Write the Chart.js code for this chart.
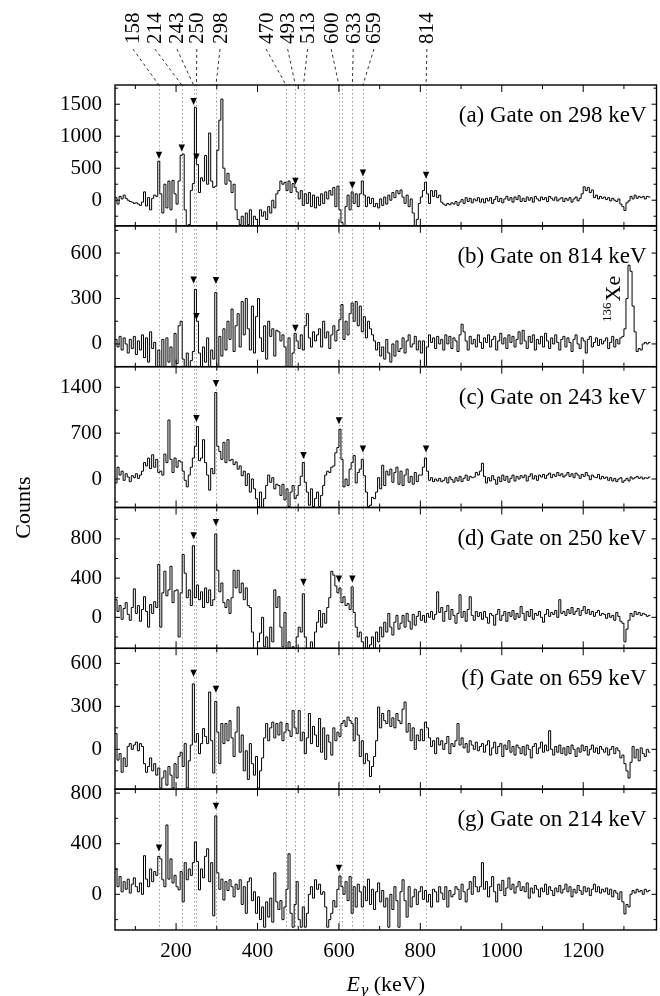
<!DOCTYPE html>
<html>
<head>
<meta charset="utf-8">
<title>Gated gamma spectra</title>
<script src="https://cdn.jsdelivr.net/npm/chart.js@4.4.1/dist/chart.umd.min.js"></script>
<style>
  html, body { margin: 0; padding: 0; background: #fff; }
  #wrap { position: relative; width: 660px; height: 996px; }
</style>
</head>
<body>
<div id="wrap"><canvas id="spectra"></canvas></div>
<script>
// binning of the gated spectra (keV)
var E_START = 50;
var BIN = 5;
var X_MIN = 50;
var X_MAX = 1380;
var xTicks = [200, 400, 600, 800, 1000, 1200];

// transitions marked by dotted lines / labelled on top
var lineEnergies = [158, 214, 243, 250, 298, 470, 493, 513, 600, 607, 633, 659, 814];
var labelEnergies = [158, 214, 243, 250, 298, 470, 493, 513, 600, 633, 659, 814];

var gateNames = ['(a) Gate on 298 keV', '(b) Gate on 814 keV', '(c) Gate on 243 keV',
                 '(d) Gate on 250 keV', '(f) Gate on 659 keV', '(g) Gate on 214 keV'];

// counts per 5 keV bin, starting at 50 keV, one row = 100 keV
var countsA = [
  40, -60, 60, 20, 80, 30, 0, -20, -30, -50, -40, -60, -80, -30, 130, -90, 40, -150, 30, 80,
  60, 610, 100, -200, 250, -120, 300, -150, 310, 100, -60, 300, 700, 720, -150, -450, -380, 150, 260, 1450,
  560, 120, 350, 300, 700, 250, 1050, 300, 200, 220, 780, 1250, 1580, 500, 250, 420, 300, 120, 250, -150,
  -300, -380, -250, -420, -200, -380, -150, -450, -250, -300, -450, -150, -250, -180, -300, -100, -200, 0, -120, 100,
  150, 300, 250, 280, 150, 300, 120, 260, 200, 130, 20, 150, -80, 100, -50, 120, -100, 80, -120, 50,
  -80, 100, -50, 130, 20, 150, 80, 200, -100, 220, -150, -350, -450, -100, 80, -150, 130, -50, 100, -100,
  100, 300, 80, -100, 50, -50, 30, -100, -50, -120, 20, -80, 50, -60, 80, 0, 120, 40, 150, 100,
  160, 50, -50, 80, -100, 20, -200, -450, -300, -50, 50, 150, 280, 100, -50, 150, 60, 150, 40, 80,
  -30, -60, -80, -50, -70, -40, -60, -20, -80, -30, 10, -50, 40, -20, 30, -40, 20, -10, 40, -30,
  20, -40, 30, -10, 40, -50, 10, 60, -20, 30, -40, 20, 60, 0, 40, -30, 50, 10, 70, -20,
  30, -20, 50, 0, 40, -30, 60, 20, -10, 50, 10, 40, -20, 60, 30, 0, 50, -10, 20, 40,
  -20, 30, 0, 40, -30, 20, 50, -10, 30, 100, 210, 150, 200, 120, 160, 40, 80, 20, 60, 30,
  50, 10, 40, -10, 30, 0, -20, 20, -60, -100, -160, -40, -10, 60, 20, 80, 30, 60, 40, 60,
  20, 60, 50
];
var countsB = [
  30, -20, 50, -40, 40, 0, -60, 30, -30, 50, -70, 20, -40, 60, -90, 40, -120, 80, -30, 10,
  -150, -40, -150, 30, -160, 40, -120, -20, -150, 70, -130, 120, 150, -100, -160, -60, -150, -110, -50, 360,
  150, -60, -150, -20, -120, 40, -150, -40, -100, 340, -150, 50, -80, 100, -40, 150, 30, 230, -50, 120,
  200, -20, 280, 60, 300, 100, -40, 250, -60, 180, 300, 40, -50, 120, -100, 150, 50, 100, -80, 90,
  80, 20, 60, -20, -150, 40, -150, -60, 70, 20, -30, 60, -40, 120, 200, 40, -20, 80, 20, 60,
  100, -20, 150, 40, 80, -30, 60, 120, 20, 90, 160, 260, 30, 150, 60, 200, 270, 150, 280, 120,
  250, 80, 180, 40, 150, 100, 60, 20, -40, 10, -80, -20, -100, 30, -60, -120, 0, -80, 20, -50,
  -30, 40, -60, 20, 60, -20, 0, 50, -40, 20, -60, 20, -150, -20, 60, 10, 40, -30, 50, 0,
  30, -40, 60, 0, 50, -30, 40, 20, -50, 60, 130, 80, 20, -40, 50, 0, 30, -20, 60, 10,
  -30, 40, 10, 60, -20, 30, 50, -40, 20, 70, 0, 40, -30, 60, 10, 50, -20, 30, 80, 0,
  90, 20, -30, 50, 10, 60, -40, 30, 0, 50, -20, 70, 20, -30, 40, 0, 60, 10, -40, 30,
  50, -20, 40, 10, -50, 30, 60, 0, -30, 40, 20, -60, 30, 50, -20, 10, 40, -10, 30, 0,
  20, 40, -30, 10, 50, -20, 30, 0, 40, 50, 100, 300, 520, 480, 250, 80, -50, -30, -40, 0,
  10, 0, 10
];
var countsC = [
  -60, 180, 60, 120, -20, 80, 30, -40, 50, 20, 80, 10, 60, 120, 250, 200, 320, 160, 370, 180,
  300, 100, 120, 60, 380, 250, 900, 300, 100, 320, 180, 280, 260, 120, -20, -120, 60, 180, 320, 500,
  800, 280, 320, 600, 250, 60, -170, 160, 80, 1320, 500, 420, 300, 560, 250, 600, 280, 300, 220, 260,
  150, 200, 50, 120, -100, 80, -200, 0, -150, -300, -420, -200, -450, -300, -100, 60, -50, 20, -150, -80,
  -100, -250, -80, -320, -150, -420, -200, -100, -300, -250, -100, 40, 250, -50, -200, -400, -150, -420, -300, -200,
  -420, -250, -100, 60, 120, 100, 180, 200, 400, 480, 760, 300, -120, 0, -100, 150, 250, 360, -60, 100,
  150, 300, 50, -200, -420, -400, -280, -300, -200, 20, -150, 210, -100, 120, 60, 150, -50, 100, 180, -80,
  120, -100, 60, 150, -50, 40, -80, 100, -40, 60, 60, 180, 320, 120, -20, 20, -40, 0, -30, 10,
  -40, -20, 20, -60, 30, -10, -50, 20, -30, 40, -40, 10, 60, -20, 40, 20, 30, 100, 60, 120,
  240, 40, -60, 20, -30, 50, -10, -80, 30, -40, 60, -20, 40, -50, 10, 60, -30, 40, 0, 50,
  20, 60, -30, 40, 80, 0, 50, -20, 60, 30, 70, 10, 60, 90, 20, 70, 40, 100, 50, 80,
  30, 60, 100, 40, 80, 20, 90, 60, 10, 70, 40, 100, 50, -10, 60, 30, 20, 70, 0, 40,
  10, 30, -20, 20, -30, 10, -40, 0, 20, -50, -20, 10, -30, 30, 0, 20, 40, 10, 30, 0,
  20, 10, 30
];
var countsD = [
  180, 60, 120, -20, 90, 150, 30, -30, 100, 290, 40, 120, -40, 80, 210, 60, -100, 130, 40, 160,
  100, 540, -100, 250, 470, 220, 280, 520, 150, 270, 280, -200, 250, 640, 450, 200, 280, 120, 730, 200,
  330, 180, 260, 100, 300, 150, 280, 120, 180, 850, 480, 260, 350, 150, 100, 180, 40, 200, 480, 300,
  480, 250, 350, 180, 300, 120, 100, -150, -320, -340, -250, -160, 0, -300, -200, -330, -100, -250, 280, 100,
  210, -100, -300, 50, -330, -250, -340, -300, -330, -200, -100, -150, 240, -200, -330, -400, -250, -330, -150, -50,
  70, -100, 40, -60, 100, 200, 470, 430, 320, 250, 300, 150, 210, 120, 140, 80, 310, 50, -100, -200,
  -150, -250, -320, -200, -330, -280, -200, -320, -150, -250, -100, -200, -50, -150, 40, -100, -180, -50, 20, -120,
  -60, 20, -100, 40, -40, -120, 30, -80, 10, 60, -30, 20, -50, 40, 0, 60, -20, 30, 260, 50,
  100, -40, 60, 120, -20, 80, 20, -60, 40, 230, 0, 60, -40, 80, 210, 20, -30, 60, 10, 50,
  -20, 60, 0, -60, 40, 20, -80, 30, 80, -30, 20, 60, -40, 50, 10, 70, -20, 40, 0, 110,
  40, -30, 60, 10, 80, -20, 40, 20, 60, 0, -50, 30, 80, 10, 50, 30, 70, 0, 180, 40,
  60, 20, 80, 40, 100, 30, 60, 90, 20, 70, 110, 40, 80, 30, 60, 10, 50, 70, 20, 40,
  30, -10, 40, 0, 20, -30, 50, 10, -40, -60, -250, -120, -30, 40, 10, 60, 30, 50, 20, 40,
  30, 10, 20
];
var countsF = [
  110, -75, -30, -160, -60, -120, 20, 40, 0, 30, 50, -10, 40, 20, -100, -160, -120, -60, -150, -100,
  -180, -130, -270, -200, -150, -250, -120, -180, -270, -100, -200, -50, -20, -120, 40, -270, -80, 30, 457, 50,
  110, -30, 40, 145, 90, 40, 400, 60, -165, 335, 120, -100, 180, 40, 180, 60, 200, 80, -50, 120,
  295, -20, 100, -150, -10, -210, 40, -100, -180, -50, -270, -150, -60, 80, 180, 60, 150, 190, 80, 180,
  100, 190, 60, 120, 180, 130, 90, 270, 150, 110, 270, 60, 120, -30, 80, 250, 40, 160, 100, 20,
  215, -20, 150, -70, 100, 50, -40, 150, 60, 120, 90, 180, 200, 160, 225, 200, 180, 60, 220, 100,
  -50, 60, -100, -30, -80, -190, -120, -50, 60, 295, 150, 250, 200, 180, 270, 160, 220, 150, 250, 200,
  180, 280, 330, 120, 180, 60, 150, 0, 100, 60, 140, 60, 190, 150, 80, 20, 60, -30, 80, 30,
  60, 0, 40, 90, -30, 40, 20, 60, 180, 30, 80, 10, 40, -20, 60, 30, 0, 50, -10, 20,
  40, -20, 30, 60, -40, 10, 50, -30, 20, 40, -50, 30, 0, 60, -20, 20, -40, 30, 10, -30,
  20, -40, 30, 0, -60, 20, 40, -30, 10, 50, -20, 30, -10, 130, 0, -40, 20, -20, 30, -30,
  10, -40, 20, -30, 30, 0, -50, 10, -20, 30, -10, 20, -40, 0, 30, -20, 10, -30, 20, 0,
  -20, 10, -40, 0, 20, -30, 10, -10, -60, -40, -100, -150, -200, -90, 20, -60, 0, -80, 10, -30,
  -50, 0, -20
];
var countsG = [
  200, 60, 140, 20, 100, 40, 120, 10, 80, 130, 60, 20, 90, 0, 305, 120, 60, 200, 100, 180,
  150, 300, 280, 115, 60, 548, 120, 280, 90, 150, 60, 35, 180, -60, 250, 115, 200, 150, 250, 413,
  260, 35, 200, 130, 300, 360, 100, 250, -170, 620, 170, 40, 120, -45, 100, 30, 115, 60, -20, 80,
  40, 115, -80, 60, -150, 100, 130, -50, 20, -150, -20, -200, -100, -260, -60, -180, -30, -220, 170, -60,
  -120, -50, -200, -100, 40, 320, -150, -260, -80, 100, -200, -260, -100, -260, -150, 0, 60, -30, 115, 40,
  80, 0, 20, -100, -260, -200, -150, -50, -100, 40, 145, 60, 0, 100, -50, 140, -150, 60, -100, 80,
  20, -100, 60, -50, 120, -80, 40, -120, 20, 90, -60, 30, -100, -30, -260, 0, -120, 60, -50, -260,
  20, 115, -50, -180, 60, -100, -20, 40, -80, 20, 60, -40, 30, -60, 0, -100, 40, 20, -60, 60,
  10, -40, 60, -100, 30, -20, 0, 60, 40, -40, 80, 20, -60, 40, 100, 0, 140, 60, 20, 60,
  250, 40, 100, -20, 60, 140, 20, -60, 80, 30, 110, -10, 50, 130, 40, 80, 10, 60, 100, 30,
  60, 20, 90, -30, 50, 10, 70, 40, -20, 50, 20, 80, 0, 60, 30, -10, 50, 20, 70, 10,
  40, 80, 20, 60, -20, 40, 10, 70, 30, 0, 60, 20, 50, -10, 40, 80, 20, 60, 10, 40,
  20, 50, 0, 40, -20, 30, 10, -40, 20, -60, -155, -80, -100, 0, 30, 10, 40, 20, 30, 0,
  40, 20, 30
];

// y ranges and labelled ticks of each panel
var rangeA = [-400, 1800], yTicksA = [0, 500, 1000, 1500];
var rangeB = [-150, 780],  yTicksB = [0, 300, 600];
var rangeC = [-435, 1715], yTicksC = [0, 700, 1400];
var rangeD = [-316, 1120], yTicksD = [0, 400, 800];
var rangeF = [-278, 705],  yTicksF = [0, 300, 600];
var rangeG = [-282, 831],  yTicksG = [0, 400, 800];

// marked peaks: [energy, counts at triangle tip]
var peaksA = [[158, 646], [214, 760], [243, 1488], [250, 620], [493, 240], [633, 178], [659, 370], [814, 334]];
var peaksB = [[243, 400], [250, 158], [298, 396], [493, 81]];
var peaksC = [[250, 872], [298, 1405], [513, 304], [600, 837], [659, 406], [814, 406]];
var peaksD = [[243, 797], [298, 932], [513, 322], [600, 356], [633, 356]];
var peaksF = [[243, 507], [298, 395]];
var peaksG = [[158, 338], [298, 669], [600, 179]];

var panels = [
  { id: 'ya', name: gateNames[0], counts: countsA, range: rangeA, ticks: yTicksA, peaks: peaksA },
  { id: 'yb', name: gateNames[1], counts: countsB, range: rangeB, ticks: yTicksB, peaks: peaksB },
  { id: 'yc', name: gateNames[2], counts: countsC, range: rangeC, ticks: yTicksC, peaks: peaksC },
  { id: 'yd', name: gateNames[3], counts: countsD, range: rangeD, ticks: yTicksD, peaks: peaksD },
  { id: 'yf', name: gateNames[4], counts: countsF, range: rangeF, ticks: yTicksF, peaks: peaksF },
  { id: 'yg', name: gateNames[5], counts: countsG, range: rangeG, ticks: yTicksG, peaks: peaksG }
];

var SERIF = '"Liberation Serif", "Times New Roman", serif';
Chart.defaults.font.family = SERIF;
Chart.defaults.color = '#000';

var toPoints = function (counts) {
  var pts = [];
  for (var i = 0; i < counts.length; i++) {
    pts.push({ x: E_START + i * BIN, y: counts[i] });
  }
  // close the last bin
  pts.push({ x: E_START + counts.length * BIN, y: counts[counts.length - 1] });
  return pts;
};

var tickSetter = function (values) {
  return function (scale) {
    scale.ticks = values.map(function (v) { return { value: v }; });
  };
};

var scales = {
  x: {
    type: 'linear',
    position: 'bottom',
    min: X_MIN,
    max: X_MAX,
    grid: { display: false, drawTicks: false },
    border: { display: false },
    ticks: { font: { size: 21 }, color: '#000', padding: 9, maxRotation: 0, autoSkip: false,
             callback: function (v) { return String(v); } },
    afterBuildTicks: tickSetter(xTicks),
    afterFit: function (scale) { scale.height = 66; }
  }
};
// stacked left axes are laid out last-defined-first, so add them bottom-up
panels.slice().reverse().forEach(function (p) {
  scales[p.id] = {
    type: 'linear',
    position: 'left',
    stack: 'gates',
    stackWeight: 1,
    min: p.range[0],
    max: p.range[1],
    grid: { display: false, drawTicks: false },
    border: { display: false },
    ticks: { font: { size: 21 }, color: '#000', padding: 13, autoSkip: false,
             callback: function (v) { return String(v); } },
    afterBuildTicks: tickSetter(p.ticks),
    afterFit: function (scale) { scale.width = 115; }
  };
});

var datasets = panels.map(function (p) {
  return {
    label: p.name,
    data: toPoints(p.counts),
    yAxisID: p.id,
    stepped: true,
    borderColor: '#000',
    borderWidth: 1,
    pointRadius: 0,
    fill: false
  };
});

// label slots of the top annotations, in keV
var labelSlots = [94, 148, 202, 251, 308, 421, 474, 523, 581, 635, 686, 816];

var spectraDecor = {
  id: 'spectraDecor',
  beforeDatasetsDraw: function (chart) {
    var ctx = chart.ctx, area = chart.chartArea, xs = chart.scales.x;
    ctx.save();
    ctx.strokeStyle = '#a0a0a0';
    ctx.lineWidth = 1;
    ctx.setLineDash([1.5, 2.5]);
    lineEnergies.forEach(function (e) {
      var px = Math.round(xs.getPixelForValue(e)) + 0.5;
      ctx.beginPath();
      ctx.moveTo(px, area.top);
      ctx.lineTo(px, area.bottom);
      ctx.stroke();
    });
    ctx.restore();
  },
  afterDraw: function (chart) {
    var ctx = chart.ctx, area = chart.chartArea, xs = chart.scales.x;
    ctx.save();
    ctx.fillStyle = '#000';
    ctx.strokeStyle = '#000';

    panels.forEach(function (p) {
      var s = chart.scales[p.id];
      // frame
      ctx.lineWidth = 1.4;
      ctx.strokeRect(area.left, s.top, area.right - area.left, s.bottom - s.top);

      // inward tick marks
      ctx.lineWidth = 1;
      ctx.beginPath();
      for (var v = 100; v <= 1300; v += 100) {
        var px = xs.getPixelForValue(v);
        var len = (v % 200 === 0) ? 7 : 4;
        ctx.moveTo(px, s.top); ctx.lineTo(px, s.top + len);
        ctx.moveTo(px, s.bottom); ctx.lineTo(px, s.bottom - len);
      }
      var step = p.ticks[1] - p.ticks[0];
      for (var t = p.ticks[0] - step / 2; t <= p.range[1]; t += step / 2) {
        if (t < p.range[0]) continue;
        var py = s.getPixelForValue(t);
        var tl = (p.ticks.indexOf(t) >= 0) ? 5 : 3;
        ctx.moveTo(area.left, py); ctx.lineTo(area.left + tl, py);
        ctx.moveTo(area.right, py); ctx.lineTo(area.right - tl, py);
      }
      ctx.stroke();

      // peak markers
      p.peaks.forEach(function (pk) {
        var tx = xs.getPixelForValue(pk[0]);
        var ty = s.getPixelForValue(pk[1]);
        ctx.beginPath();
        ctx.moveTo(tx - 3.2, ty - 7);
        ctx.lineTo(tx + 3.2, ty - 7);
        ctx.lineTo(tx, ty);
        ctx.closePath();
        ctx.fill();
      });

      // gate label
      ctx.font = '23px ' + SERIF;
      ctx.textAlign = 'right';
      ctx.textBaseline = 'middle';
      ctx.fillText(p.name, area.right - 10, s.top + 31);
    });

    // 136Xe contaminant label in panel (b)
    var sb = chart.scales.yb;
    ctx.save();
    ctx.translate(xs.getPixelForValue(1291), sb.getPixelForValue(145));
    ctx.rotate(-Math.PI / 2);
    ctx.textAlign = 'left';
    ctx.textBaseline = 'alphabetic';
    ctx.font = '13px ' + SERIF;
    ctx.fillText('136', 0, -9);
    var w136 = ctx.measureText('136').width;
    ctx.font = '22px ' + SERIF;
    ctx.fillText('Xe', w136 + 1, 0);
    ctx.restore();

    // energy labels on top with leaders
    ctx.font = '21px ' + SERIF;
    labelEnergies.forEach(function (e, i) {
      var lx = xs.getPixelForValue(labelSlots[i]);
      ctx.save();
      ctx.translate(lx, 44);
      ctx.rotate(-Math.PI / 2);
      ctx.textAlign = 'left';
      ctx.textBaseline = 'middle';
      ctx.fillText(String(e), 0, 1);
      ctx.restore();
      ctx.save();
      ctx.lineWidth = 0.8;
      ctx.setLineDash([3, 3]);
      ctx.beginPath();
      ctx.moveTo(lx, 49);
      ctx.lineTo(xs.getPixelForValue(e), area.top);
      ctx.stroke();
      ctx.restore();
    });

    // axis titles
    ctx.save();
    ctx.translate(24, (area.top + area.bottom) / 2);
    ctx.rotate(-Math.PI / 2);
    ctx.font = '22px ' + SERIF;
    ctx.textAlign = 'center';
    ctx.textBaseline = 'middle';
    ctx.fillText('Counts', 0, 0);
    ctx.restore();

    var GREEK = '"DejaVu Serif", serif';
    ctx.textAlign = 'left';
    ctx.textBaseline = 'alphabetic';
    ctx.font = 'italic 22px ' + SERIF;
    var wE = ctx.measureText('E').width;
    ctx.font = 'italic 14px ' + GREEK;
    var wG = ctx.measureText('\u03b3').width;
    ctx.font = '22px ' + SERIF;
    var wR = ctx.measureText(' (keV)').width;
    var x0 = (area.left + area.right) / 2 - (wE + wG + wR) / 2;
    var base = 991;
    ctx.font = 'italic 22px ' + SERIF;
    ctx.fillText('E', x0, base);
    ctx.font = 'italic 14px ' + GREEK;
    ctx.fillText('\u03b3', x0 + wE, base + 4);
    ctx.font = '22px ' + SERIF;
    ctx.fillText(' (keV)', x0 + wE + wG, base);
    ctx.restore();
  }
};

new Chart(document.getElementById('spectra').getContext('2d'), {
  type: 'line',
  data: { datasets: datasets },
  options: {
    responsive: true,
    maintainAspectRatio: false,
    animation: false,
    events: [],
    layout: { padding: { top: 85, right: 3.5, bottom: 0, left: 0 } },
    scales: scales,
    plugins: {
      legend: { display: false },
      tooltip: { enabled: false }
    }
  },
  plugins: [spectraDecor]
});
</script>
</body>
</html>
